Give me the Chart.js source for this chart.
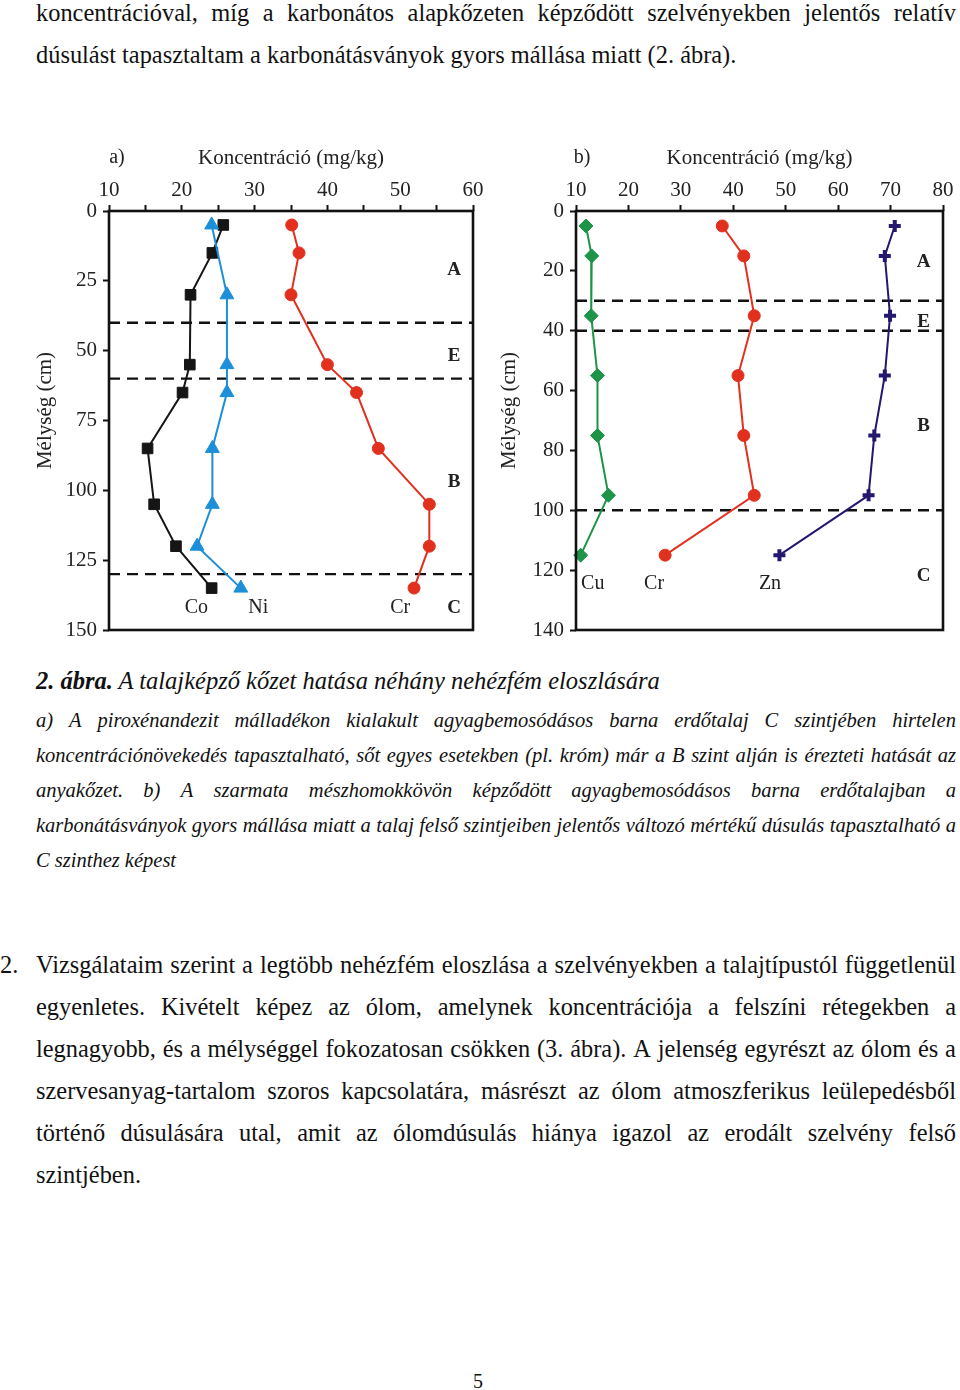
<!DOCTYPE html>
<html><head><meta charset="utf-8">
<script src="https://cdn.jsdelivr.net/npm/chart.js@4"></script>
<style>
html,body{margin:0;padding:0;background:#fff;}
body{width:960px;height:1390px;position:relative;overflow:hidden;font-family:"Liberation Serif","Times New Roman",serif;color:#111;}
.ln{position:absolute;left:36px;width:920px;white-space:nowrap;}
.j{display:flex;justify-content:space-between;}
.body{font-size:24.4px;line-height:42px;}
.cap{font-size:20.5px;line-height:35px;font-style:italic;}
canvas{position:absolute;}
</style>
</head><body>
<div class="ln body j" style="top:-8px">koncentrációval, míg a karbonátos alapkőzeten képződött szelvényekben jelentős relatív</div>
<div class="ln body" style="top:34px">dúsulást tapasztaltam a karbonátásványok gyors mállása miatt (2. ábra).</div>

<div id="wa" style="position:absolute;left:30px;top:140px;width:470px;height:510px;"><canvas id="ca"></canvas></div>
<div id="wb" style="position:absolute;left:500px;top:140px;width:460px;height:510px;"><canvas id="cb"></canvas></div>

<div class="ln" style="top:667px;font-size:24.5px;line-height:28px;font-style:italic;"><b>2. ábra.</b> A talajképző kőzet hatása néhány nehézfém eloszlására</div>
<div class="ln cap j" style="top:703px">a) A piroxénandezit málladékon kialakult agyagbemosódásos barna erdőtalaj C szintjében hirtelen</div>
<div class="ln cap j" style="top:738px">koncentrációnövekedés tapasztalható, sőt egyes esetekben (pl. króm) már a B szint alján is érezteti hatását az</div>
<div class="ln cap j" style="top:773px">anyakőzet. b) A szarmata mészhomokkövön képződött agyagbemosódásos barna erdőtalajban a</div>
<div class="ln cap j" style="top:808px">karbonátásványok gyors mállása miatt a talaj felső szintjeiben jelentős változó mértékű dúsulás tapasztalható a</div>
<div class="ln cap" style="top:843px">C szinthez képest</div>

<div class="body" style="position:absolute;left:0;top:944px;">2.</div>
<div class="ln body j" style="top:944px">Vizsgálataim szerint a legtöbb nehézfém eloszlása a szelvényekben a talajtípustól függetlenül</div>
<div class="ln body j" style="top:986px">egyenletes. Kivételt képez az ólom, amelynek koncentrációja a felszíni rétegekben a</div>
<div class="ln body j" style="top:1028px">legnagyobb, és a mélységgel fokozatosan csökken (3. ábra). A jelenség egyrészt az ólom és a</div>
<div class="ln body j" style="top:1070px">szervesanyag-tartalom szoros kapcsolatára, másrészt az ólom atmoszferikus leülepedésből</div>
<div class="ln body j" style="top:1112px">történő dúsulására utal, amit az ólomdúsulás hiánya igazol az erodált szelvény felső</div>
<div class="ln body" style="top:1154px">szintjében.</div>

<div style="position:absolute;left:473px;top:1370px;font-size:20px;">5</div>

<script>
// ---- data ----
const depthA = [5, 15, 30, 55, 65, 85, 105, 120, 135];
const cobaltA = [25.7, 24.2, 21.2, 21.1, 20.1, 15.3, 16.2, 19.2, 24.1];
const depthNiA = [5, 30, 55, 65, 85, 105, 120, 135];
const nickelA = [24.1, 26.2, 26.2, 26.2, 24.2, 24.2, 22.1, 28.1];
const chromiumA = [35.1, 36.1, 35.0, 40.0, 44.0, 47.0, 54.0, 54.0, 51.9];

const depthB = [5, 15, 35, 55, 75, 95, 115];
const copperB = [11.9, 13.0, 12.9, 14.1, 14.1, 16.2, 10.9];
const chromiumB = [37.9, 42.0, 44.0, 40.9, 42.0, 44.0, 27.0];
const zincB = [70.8, 68.9, 69.9, 68.9, 66.9, 65.8, 48.8];

const horizonNames = ['A', 'E', 'B', 'C'];
const horizonBoundsA = [40, 60, 130];
const horizonBoundsB = [30, 40, 100];
const horizonDepthA = [21, 52, 97, 142];
const horizonDepthB = [17, 37, 72, 122];

// ---- justify lines ----
document.querySelectorAll('.j').forEach(el => {
  const words = el.textContent.trim().split(/\s+/);
  el.textContent = '';
  words.forEach(w => { const s = document.createElement('span'); s.textContent = w; el.appendChild(s); });
});

const SERIF = '"Liberation Serif", "Times New Roman", serif';
const pts = (xs, ys) => xs.map((v, i) => ({x: v, y: ys[i]}));

const decor = {
  id: 'decor',
  beforeDatasetsDraw(chart, args, o) {
    const {ctx, chartArea: a, scales: {y}} = chart;
    ctx.save();
    ctx.strokeStyle = '#111'; ctx.lineWidth = 2.4; ctx.setLineDash([11, 7]);
    o.bounds.forEach(d => {
      const py = y.getPixelForValue(d);
      ctx.beginPath(); ctx.moveTo(a.left, py); ctx.lineTo(a.right, py); ctx.stroke();
    });
    ctx.restore();
  },
  afterDraw(chart, args, o) {
    const {ctx, chartArea: a, scales: {x, y}} = chart;
    ctx.save();
    ctx.strokeStyle = '#111'; ctx.lineWidth = 2.6;
    ctx.strokeRect(a.left, a.top, a.right - a.left, a.bottom - a.top);
    ctx.fillStyle = '#222'; ctx.textAlign = 'center'; ctx.textBaseline = 'middle';
    ctx.font = 'bold 19px ' + SERIF;
    horizonNames.forEach((t, i) => ctx.fillText(t, x.getPixelForValue(o.horizonX), y.getPixelForValue(o.horizonDepth[i])));
    ctx.font = '20px ' + SERIF;
    o.names.forEach(n => ctx.fillText(n.t, x.getPixelForValue(n.x), y.getPixelForValue(n.y)));
    ctx.font = '20px ' + SERIF;
    ctx.fillText(o.panel, a.left + o.panelDx, a.top - 53);
    ctx.font = '21px ' + SERIF;
    ctx.translate(a.left - o.titleDx, (a.top + a.bottom) / 2 - 10);
    ctx.rotate(-Math.PI / 2);
    ctx.fillText('Mélység (cm)', 0, 0);
    ctx.restore();
  }
};

function makeChart(id, cfg) {
  return new Chart(document.getElementById(id), {
    type: 'scatter',
    data: {datasets: cfg.datasets},
    options: {
      responsive: true, maintainAspectRatio: false, animation: false,
      layout: {padding: cfg.padding},
      plugins: {legend: {display: false}, tooltip: {enabled: false}, decor: cfg.decor},
      scales: {
        x: {
          type: 'linear', position: 'top', min: cfg.xmin, max: cfg.xmax,
          afterFit: s => { s.height = 71; },
          border: {display: false},
          grid: {drawOnChartArea: false, drawTicks: true, tickLength: 6, tickColor: '#111', tickWidth: 2},
          ticks: {stepSize: cfg.xstep, padding: 2, color: '#222', font: {family: SERIF, size: 21}, maxRotation: 0,
                  callback: v => (v % 10 === 0 ? v : '')},
          title: {display: true, text: 'Koncentráció (mg/kg)', color: '#222', font: {family: SERIF, size: 21}, padding: {top: 6, bottom: 0}}
        },
        y: {
          type: 'linear', reverse: true, min: 0, max: cfg.ymax,
          afterFit: s => { s.width = cfg.yWidth; },
          border: {display: false},
          grid: {drawOnChartArea: false, drawTicks: true, tickLength: 6, tickColor: '#111', tickWidth: 2},
          ticks: {stepSize: cfg.ystep, padding: 6, color: '#222', font: {family: SERIF, size: 21}}
        }
      }
    },
    plugins: [decor]
  });
}

function ds(data, color, style, radius, extra) {
  return Object.assign({data, showLine: true, borderColor: color, backgroundColor: color, borderWidth: 2,
    pointStyle: style, pointRadius: radius, pointBorderWidth: 1, pointBorderColor: color, pointBackgroundColor: color, clip: false}, extra || {});
}

makeChart('ca', {
  xmin: 10, xmax: 60, xstep: 5, ymax: 150, ystep: 25, yWidth: 79,
  padding: {left: 0, top: 0, right: 27, bottom: 20},
  datasets: [
    ds(pts(chromiumA, depthA), '#e2301f', 'circle', 6),
    ds(pts(nickelA, depthNiA), '#1c8fd8', 'triangle', 8),
    ds(pts(cobaltA, depthA), '#151515', 'rect', 7.5)
  ],
  decor: {
    bounds: horizonBoundsA, horizonDepth: horizonDepthA, horizonX: 57.4,
    names: [{t: 'Co', x: 22, y: 142}, {t: 'Ni', x: 30.5, y: 142}, {t: 'Cr', x: 50, y: 142}],
    panel: 'a)', panelDx: 8, titleDx: 64
  }
});

makeChart('cb', {
  xmin: 10, xmax: 80, xstep: 10, ymax: 140, ystep: 20, yWidth: 76,
  padding: {left: 0, top: 0, right: 17, bottom: 20},
  datasets: [
    ds(pts(copperB, depthB), '#1e9448', 'rectRot', 7),
    ds(pts(chromiumB, depthB), '#e2301f', 'circle', 6),
    ds(pts(zincB, depthB), '#24176f', 'cross', 6, {pointBorderWidth: 4})
  ],
  decor: {
    bounds: horizonBoundsB, horizonDepth: horizonDepthB, horizonX: 76.3,
    names: [{t: 'Cu', x: 13.2, y: 124.4}, {t: 'Cr', x: 24.9, y: 124.4}, {t: 'Zn', x: 47, y: 124.4}],
    panel: 'b)', panelDx: 6, titleDx: 67
  }
});
</script>
</body></html>
